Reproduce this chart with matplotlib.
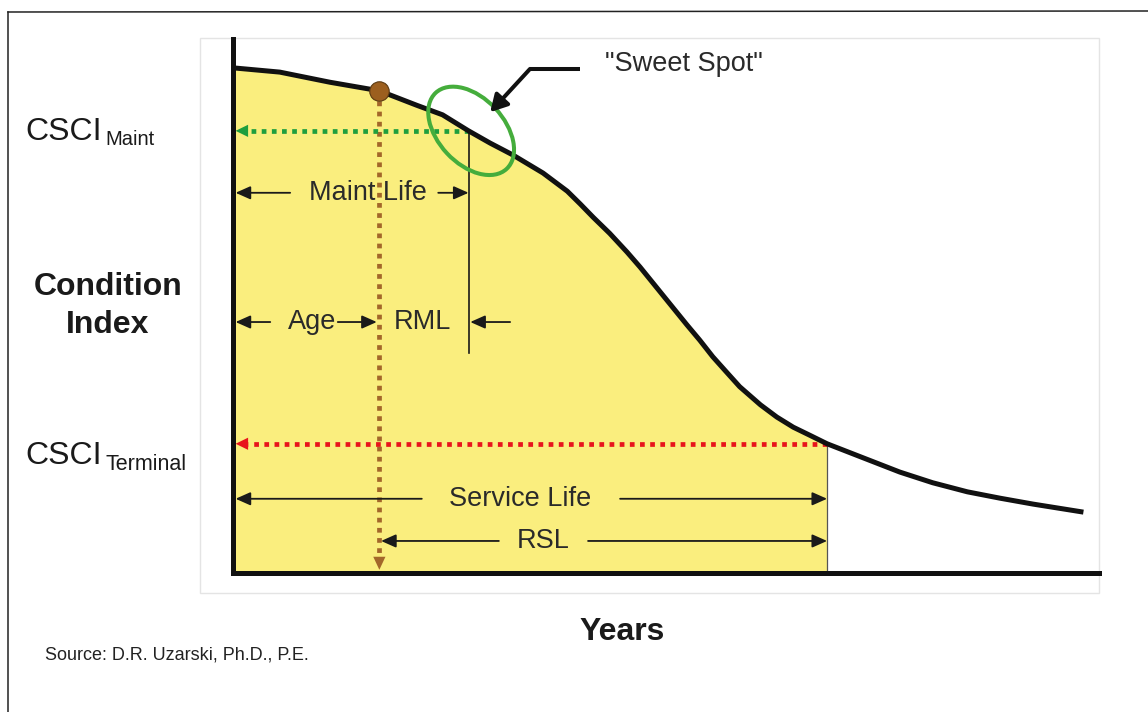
import matplotlib
matplotlib.use('Agg')
import matplotlib.pyplot as plt
from matplotlib.lines import Line2D
from matplotlib.patches import Ellipse, Rectangle
from matplotlib.transforms import ScaledTranslation

plt.rcParams['font.family'] = ['Liberation Sans', 'DejaVu Sans']

W, H = 1148, 712

# deterioration curve (years in arbitrary units 0-100, condition index 0-100)
years = [0, 5.4, 11.2, 16.9, 21.2, 24.2, 27.2, 29.7, 32.3, 35.8, 38.6, 40.1,
         41.6, 43.5, 45.5, 47.0, 49.0, 50.5, 52.4, 53.9, 55.4, 57.0, 58.5,
         60.9, 62.8, 64.7, 66.6, 68.6, 72.4, 77.0, 80.8, 84.8, 88.6, 92.4, 98.2]
condition = [94.6, 93.8, 91.9, 90.3, 87.6, 85.8, 82.8, 80.5, 78.3, 74.9, 71.5, 69.1,
             66.6, 63.6, 60.1, 57.3, 53.3, 50.3, 46.5, 43.6, 40.5, 37.6, 34.9,
             31.5, 29.2, 27.3, 25.8, 24.2, 21.8, 18.9, 16.9, 15.2, 14.0, 12.9, 11.4]

age = 16.9
maint_life = 27.2
service_life = 68.6
csci_maint = 82.8
csci_terminal = 24.2

YELLOW = '#faee7e'
BROWN = '#a3672a'
GREEN = '#1f9e3e'
RED = '#e8141c'
INK = '#1a1a1a'
TXT = '#2a2a2a'
DOTS = (0, (1, 1.15))


def fx(px):
    return px / W


def fy(py):
    return 1 - py / H


def head(ax, tip, offset, color, hl=0.45, hw=0.22):
    ax.annotate('', xy=tip, xytext=offset, textcoords='offset points',
                arrowprops=dict(arrowstyle='-|>,head_length=%s,head_width=%s' % (hl, hw),
                                mutation_scale=20, color=color, lw=0,
                                shrinkA=0, shrinkB=0), zorder=6)


def dim_arrow(ax, tail, tip, y):
    ax.annotate('', xy=(tip, y), xytext=(tail, y),
                arrowprops=dict(arrowstyle='-|>,head_length=0.45,head_width=0.2',
                                mutation_scale=20, color=INK, lw=1.3,
                                shrinkA=0, shrinkB=0), zorder=5)


fig = plt.figure(figsize=(W / 100, H / 100), dpi=100)
ax = fig.add_axes([fx(233), fy(573), (1099 - 233) / W, (573 - 39) / H])
ax.set_xlim(0, 100)
ax.set_ylim(0, 100)
ax.patch.set_visible(False)
for side in ['top', 'right']:
    ax.spines[side].set_visible(False)
for side in ['left', 'bottom']:
    ax.spines[side].set_linewidth(3.6)
    ax.spines[side].set_color('#111111')
    ax.spines[side].set_capstyle('projecting')
    ax.spines[side].set_zorder(8)
ax.set_xticks([])
ax.set_yticks([])

# frame and light panel
fig.add_artist(Line2D([fx(8), fx(8)], [fy(12), 0], color='#222222', lw=1.1))
fig.add_artist(Line2D([fx(8), 1], [fy(12), fy(11)], color='#222222', lw=1.1))
fig.add_artist(Rectangle((fx(200), fy(593)), (1099 - 200) / W, (593 - 38) / H,
                         fill=False, ec='#e4e4e4', lw=1, zorder=-1))

# yellow area under curve until end of service life
idx = years.index(service_life)
ax.fill_between(years[:idx + 1], condition[:idx + 1], 0, color=YELLOW, lw=0, zorder=1)
ax.plot([service_life, service_life], [0, csci_terminal], color='#555555', lw=0.9, zorder=2)

ax.plot(years, condition, color='#111111', lw=3.6, solid_capstyle='butt',
        solid_joinstyle='round', zorder=4)

# age marker and dotted guides
age_ci = condition[years.index(age)]
ax.plot([age, age], [age_ci - 2, 3.0], color=BROWN, lw=3.4, ls=DOTS, zorder=3)
head(ax, (age, 0.6), (0, 9.4), BROWN, hl=0.47, hw=0.22)
ax.plot(age, age_ci, 'o', ms=14, mfc='#9c5f1f', mec='#5b3a12', mew=0.8, zorder=7)

ax.plot([maint_life, 1.7], [csci_maint, csci_maint], color=GREEN, lw=3.4, ls=DOTS, zorder=3)
head(ax, (0.3, csci_maint), (8.6, 0), GREEN)
ax.plot([service_life, 1.7], [csci_terminal, csci_terminal], color=RED, lw=3.4, ls=DOTS, zorder=3)
head(ax, (0.3, csci_terminal), (8.6, 0), RED)

# maintenance point marker line
ax.plot([maint_life, maint_life], [csci_maint, 41.2], color=INK, lw=1.2, zorder=3)

# sweet spot ellipse and pointer
ell = Ellipse((0, 0), 1.04, 0.66, angle=-47, fill=False, ec='#45ad3c', lw=2.9,
              transform=fig.dpi_scale_trans + ScaledTranslation(27.5, 82.8, ax.transData),
              zorder=6)
ax.add_patch(ell)
ax.plot([40.1, 34.3], [94.4, 94.4], color='#111111', lw=2.9, solid_capstyle='butt', zorder=6)
ax.annotate('', xy=(29.7, 86.3), xytext=(34.3, 94.4),
            arrowprops=dict(arrowstyle='-|>,head_length=0.5,head_width=0.28',
                            mutation_scale=20, color='#111111', lw=2.9,
                            shrinkA=0, shrinkB=0), zorder=6)
ax.text(43.0, 95.3, '"Sweet Spot"', ha='left', va='center', fontsize=19.5, color=TXT)

# dimension arrows
fs = 19.5
dim_arrow(ax, 6.6, 0.3, 71.2)
dim_arrow(ax, 23.7, maint_life, 71.2)
ax.text(15.6, 71.2, 'Maint Life', ha='center', va='center', fontsize=fs, color=TXT, zorder=5)

dim_arrow(ax, 4.3, 0.3, 47.0)
dim_arrow(ax, 12.1, age - 0.3, 47.0)
ax.text(9.1, 47.0, 'Age', ha='center', va='center', fontsize=fs, color=TXT, zorder=5)
dim_arrow(ax, 32.0, maint_life + 0.2, 47.0)
ax.text(21.9, 47.0, 'RML', ha='center', va='center', fontsize=fs, color=TXT, zorder=5)

dim_arrow(ax, 21.8, 0.3, 13.9)
dim_arrow(ax, 44.7, service_life, 13.9)
ax.text(33.1, 13.9, 'Service Life', ha='center', va='center', fontsize=fs, color=TXT, zorder=5)

dim_arrow(ax, 30.7, age + 0.2, 6.0)
dim_arrow(ax, 41.0, service_life, 6.0)
ax.text(35.8, 6.0, 'RSL', ha='center', va='center', fontsize=fs, color=TXT, zorder=5)

# labels outside the plot
fig.text(fx(102), fy(140), 'CSCI', ha='right', va='baseline', fontsize=23, color='#1a1a1a')
fig.text(fx(105), fy(145), 'Maint', ha='left', va='baseline', fontsize=14.5, color='#1a1a1a')
fig.text(fx(102), fy(464), 'CSCI', ha='right', va='baseline', fontsize=23, color='#1a1a1a')
fig.text(fx(105), fy(470), 'Terminal', ha='left', va='baseline', fontsize=15.5, color='#1a1a1a')

fig.text(fx(108), fy(306), 'Condition\nIndex', ha='center', va='center', fontsize=23,
         fontweight='bold', color='#1a1a1a', linespacing=1.33)
fig.text(fx(622), fy(632), 'Years', ha='center', va='center', fontsize=23,
         fontweight='bold', color='#1a1a1a')
fig.text(fx(45), fy(655), 'Source: D.R. Uzarski, Ph.D., P.E.', ha='left', va='center',
         fontsize=13, color='#222222')

fig.savefig('out.png', dpi=100)
